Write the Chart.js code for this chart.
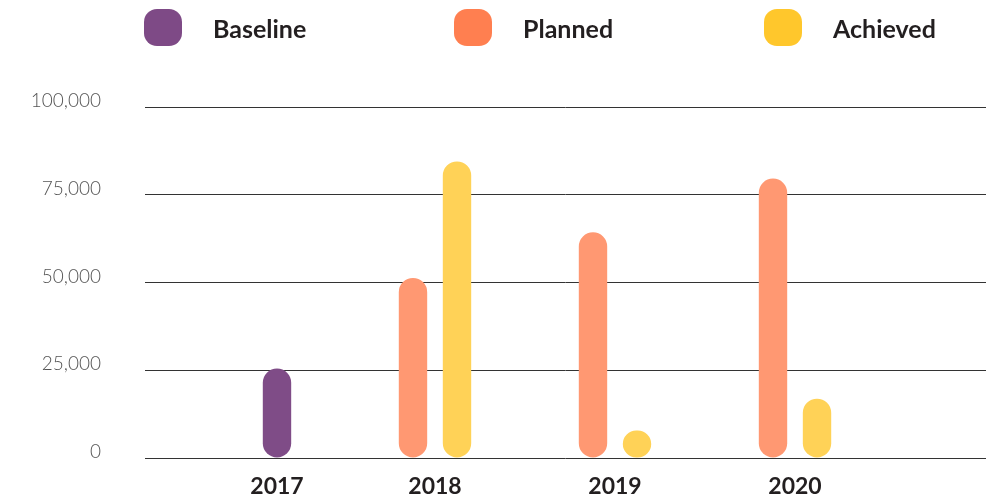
<!DOCTYPE html>
<html lang="en">
<head>
  <meta charset="UTF-8">
  <title>Baseline, Planned and Achieved</title>
  <script src="https://cdn.jsdelivr.net/npm/chart.js"></script>
  <style>
    * { margin: 0; padding: 0; box-sizing: border-box; }
    body { background: #fff; font-family: 'Lato', sans-serif; }
    .wrap { position: relative; width: 986px; height: 502px; }
    .legend {
      position: absolute;
      left: 144px;
      top: 9px;
      display: flex;
    }
    .legend .item {
      display: flex;
      align-items: center;
      width: 310px;
    }
    .legend .swatch {
      width: 38px;
      height: 37px;
      border-radius: 13px;
      margin-right: 31px;
    }
    .legend .name {
      font-size: 25px;
      font-weight: bold;
      color: #231f20;
    }
  </style>
</head>
<body>
  <div class="wrap">
    <div class="legend" id="legend"></div>
    <canvas id="chart" width="986" height="502"></canvas>
  </div>

<script>
  const years = [2017, 2018, 2019, 2020];
  const seriesNames = ['Baseline', 'Planned', 'Achieved'];
  const baseline = [25500, null, null, null];
  const planned = [null, 51300, 64300, 79600];
  const achieved = [null, 84500, 7800, 16900];
  const yTicks = [0, 25000, 50000, 75000, 100000];

  const legendColors = ['#7e4a86', '#ff7f50', '#ffc72c'];
  const barColors = ['#7f4c87', '#ff9872', '#ffd257'];

  // html legend, same order as the reference
  const legendEl = document.getElementById('legend');
  seriesNames.forEach((name, i) => {
    legendEl.innerHTML += `<div class="item"><div class="swatch" style="background:${legendColors[i]}"></div><span class="name">${name}</span></div>`;
  });

  const toPoints = arr => years.map((y, i) => ({ x: y, y: arr[i] }));

  // year labels centred under the bars that are actually drawn
  const yearLabels = {
    id: 'yearLabels',
    afterDatasetsDraw(chart) {
      const ctx = chart.ctx;
      ctx.save();
      ctx.font = 'bold 23px Lato';
      ctx.fillStyle = '#231f20';
      ctx.textAlign = 'center';
      ctx.textBaseline = 'middle';
      years.forEach((yr, j) => {
        const xs = [];
        chart.data.datasets.forEach((ds, i) => {
          if (ds.data[j].y !== null) xs.push(chart.getDatasetMeta(i).data[j].x);
        });
        const x = xs.reduce((a, b) => a + b, 0) / xs.length;
        ctx.fillText(String(yr), x, chart.chartArea.bottom + 29);
      });
      ctx.restore();
    }
  };

  const barOpts = {
    borderRadius: 15,
    borderSkipped: false,
    categoryPercentage: 0.489,
    barPercentage: 0.645
  };

  new Chart(document.getElementById('chart'), {
    type: 'bar',
    data: {
      datasets: [
        { label: seriesNames[0], data: toPoints(baseline), backgroundColor: barColors[0], stack: 'b', order: 1, ...barOpts },
        { label: seriesNames[1], data: toPoints(planned), backgroundColor: barColors[1], stack: 'a', order: 0, ...barOpts },
        { label: seriesNames[2], data: toPoints(achieved), backgroundColor: barColors[2], stack: 'b', order: 1, ...barOpts }
      ]
    },
    options: {
      responsive: false,
      animation: false,
      layout: { padding: { top: 107, bottom: 44, left: 0, right: 0 } },
      plugins: {
        legend: { display: false },
        tooltip: { enabled: false }
      },
      scales: {
        x: {
          type: 'linear',
          display: false,
          offset: false,
          min: 2016.389,
          max: 2021.061,
          afterBuildTicks: scale => { scale.ticks = years.map(v => ({ value: v })); }
        },
        y: {
          stacked: false,
          min: 0,
          max: 100000,
          afterBuildTicks: scale => { scale.ticks = yTicks.map(v => ({ value: v })); },
          afterFit: scale => {
            scale.width = 145;
            scale.paddingTop = 0;
            scale.paddingBottom = 0;
          },
          ticks: {
            padding: 44,
            labelOffset: -6,
            color: '#555',
            font: { family: 'Lato', size: 19, weight: '300' },
            callback: v => v.toLocaleString('en-US')
          },
          grid: { color: '#333', lineWidth: 1, drawTicks: false },
          border: { display: false }
        }
      }
    },
    plugins: [yearLabels]
  });
</script>
</body>
</html>
